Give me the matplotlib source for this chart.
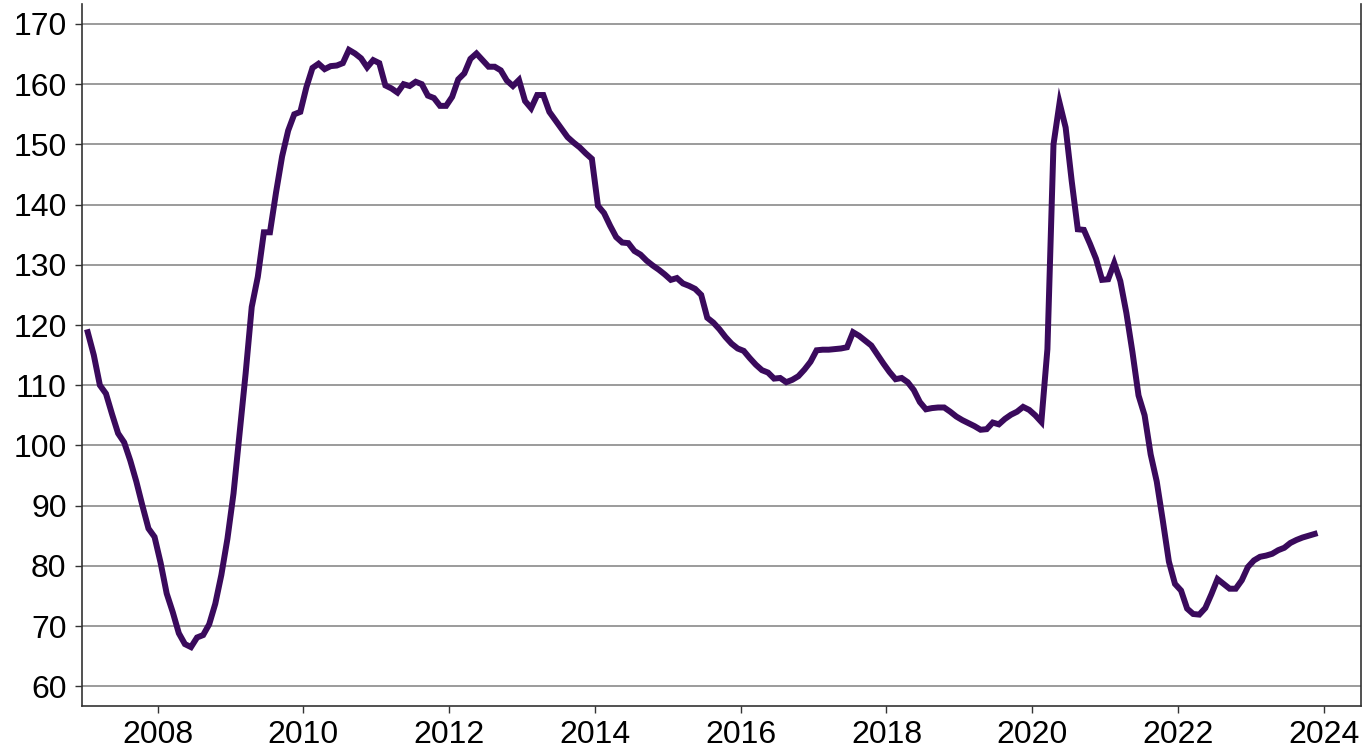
import numpy as np
import pandas as pd
import matplotlib
matplotlib.use("Agg")
import matplotlib.pyplot as plt

plt.rcParams["font.family"] = ["Liberation Sans", "DejaVu Sans"]

# monthly index values, Jan 2007 .. Nov 2023
v2007 = [118.8, 115.0, 110.0, 108.6, 105.2, 102.0, 100.5, 97.5, 94.0, 90.0, 86.2, 84.8]
v2008 = [80.5, 75.4, 72.3, 68.8, 67.0, 66.5, 68.1, 68.5, 70.3, 73.7, 78.5, 84.5]
v2009 = [92.0, 102.0, 112.0, 123.0, 128.0, 135.4, 135.4, 142.0, 148.0, 152.3, 155.0, 155.4]
v2010 = [159.5, 162.7, 163.4, 162.5, 163.0, 163.1, 163.5, 165.7, 165.1, 164.3, 162.8, 164.0]
v2011 = [163.5, 159.8, 159.3, 158.6, 160.0, 159.7, 160.4, 160.0, 158.1, 157.7, 156.4, 156.4]
v2012 = [157.9, 160.8, 161.8, 164.2, 165.1, 164.0, 162.9, 162.9, 162.3, 160.6, 159.7, 160.7]
v2013 = [157.2, 156.0, 158.2, 158.2, 155.4, 154.0, 152.6, 151.2, 150.3, 149.5, 148.5, 147.6]
v2014 = [139.8, 138.6, 136.5, 134.6, 133.7, 133.6, 132.3, 131.7, 130.7, 129.9, 129.2, 128.4]
v2015 = [127.5, 127.8, 126.9, 126.5, 126.0, 125.0, 121.2, 120.4, 119.3, 118.0, 116.9, 116.1]
v2016 = [115.7, 114.5, 113.4, 112.5, 112.1, 111.1, 111.2, 110.5, 110.9, 111.5, 112.6, 113.9]
v2017 = [115.8, 115.9, 115.9, 116.0, 116.1, 116.3, 118.8, 118.2, 117.4, 116.6, 115.1, 113.6]
v2018 = [112.2, 111.0, 111.2, 110.5, 109.2, 107.2, 106.0, 106.2, 106.3, 106.3, 105.6, 104.8]
v2019 = [104.2, 103.7, 103.2, 102.6, 102.7, 103.8, 103.5, 104.4, 105.1, 105.6, 106.4, 105.9]
v2020 = [105.0, 103.9, 116.0, 150.0, 156.9, 152.8, 143.9, 135.9, 135.8, 133.5, 131.0, 127.5]
v2021 = [127.6, 130.3, 127.3, 122.0, 115.5, 108.3, 105.0, 98.5, 94.0, 87.5, 80.7, 77.0]
v2022 = [75.9, 72.9, 72.0, 71.9, 73.0, 75.3, 77.8, 77.0, 76.2, 76.2, 77.6, 79.8]
v2023 = [80.9, 81.5, 81.7, 82.0, 82.6, 83.0, 83.8, 84.3, 84.7, 85.0, 85.3]

values = (v2007 + v2008 + v2009 + v2010 + v2011 + v2012 + v2013 + v2014 + v2015
          + v2016 + v2017 + v2018 + v2019 + v2020 + v2021 + v2022 + v2023)
dates = pd.date_range("2007-01-01", periods=len(values), freq="MS")
# plot at mid-month, as decimal years
xpos = dates.year + (dates.month - 0.5) / 12

year_ticks = [2008, 2010, 2012, 2014, 2016, 2018, 2020, 2022, 2024]
y_ticks = [60, 70, 80, 90, 100, 110, 120, 130, 140, 150, 160, 170]

fig = plt.figure(figsize=(13.63, 7.48), dpi=100)
ax = fig.add_axes([0.060, 0.056, 0.9385, 0.9385])

for y in y_ticks:
    ax.axhline(y, color='#8a8a8a', lw=1.2, zorder=1)

ax.plot(xpos, values, color='#3a0a5c', lw=4.3, solid_joinstyle='miter', zorder=3)

ax.set_xlim(2006.96, 2024.51)
ax.set_ylim(56.7, 173.3)
ax.set_xticks(year_ticks)
ax.set_xticklabels([str(t) for t in year_ticks])
ax.set_yticks(y_ticks)

ax.spines['top'].set_visible(False)
for s in ['left', 'right', 'bottom']:
    ax.spines[s].set_color('#333333')
    ax.spines[s].set_linewidth(1.2)

ax.tick_params(axis='both', direction='out', length=5, width=1, color='#333333',
               labelsize=23)
ax.tick_params(axis='y', pad=6)
ax.tick_params(axis='x', pad=5)

fig.savefig("out.png", dpi=100)
